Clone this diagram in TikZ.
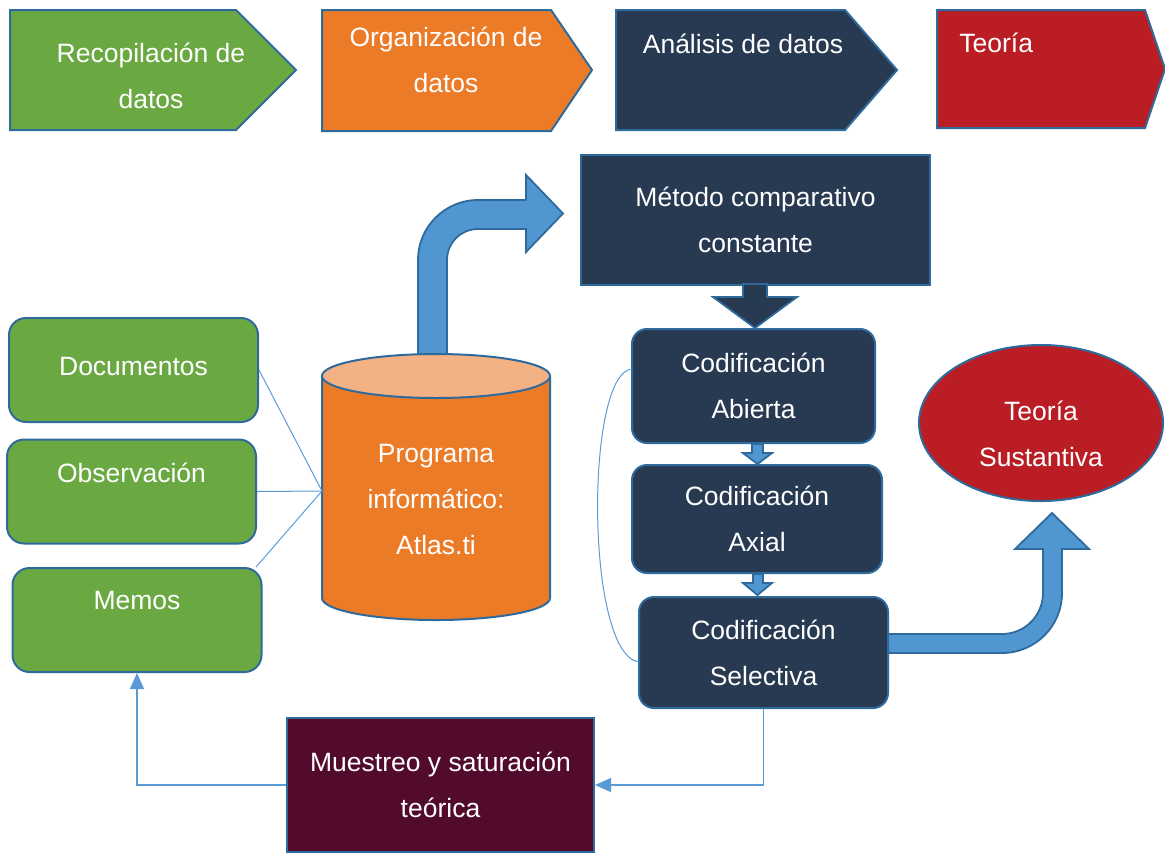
\documentclass[tikz,border=0pt]{standalone}
\usepackage{fontspec}
\setmainfont{Liberation Sans}
\usetikzlibrary{arrows.meta,shapes.geometric}
\definecolor{cgreen}{HTML}{6AA842}
\definecolor{corange}{HTML}{EC7B27}
\definecolor{clorange}{HTML}{F4B183}
\definecolor{cnavy}{HTML}{273A51}
\definecolor{cred}{HTML}{BA1D24}
\definecolor{cmaroon}{HTML}{520B2C}
\definecolor{cbfill}{HTML}{5097D2}
\definecolor{cborder}{HTML}{2F6A9D}
\definecolor{cline}{HTML}{5B9BD5}
\tikzset{
  txt/.style={text=white,font=\fontsize{13.25}{23}\selectfont,align=center,inner sep=0pt},
  shapeb/.style={draw=cborder,line width=1pt},
  greenbox/.style={shapeb,fill=cgreen,rounded corners=8.5pt,minimum width=124.5pt,minimum height=52pt,inner sep=0pt},
  navybox/.style={shapeb,fill=cnavy,rounded corners=7.5pt,inner sep=0pt,txt},
  blockarrow/.style={draw=cborder,line width=0.9pt,fill=cbfill},
  thin/.style={draw=cline,line width=0.5pt},
  fb/.style={draw=cline,line width=0.6pt,-{Triangle[length=8pt,width=7pt]}}
}
\begin{document}
\begin{tikzpicture}[x=0.5pt,y=-0.5pt]
\useasboundingbox (0,0) rectangle (1165,853);
% top pentagons
\draw[shapeb,fill=cgreen] (10,10) -- (236,10) -- (296,70) -- (236,130) -- (10,130) -- cycle;
\node[txt] (t1) at (151,75.5) {Recopilación de\\datos};
\draw[shapeb,fill=corange] (322,10) -- (551,10) -- (592,70) -- (551,131) -- (322,131) -- cycle;
\node[txt] (t2) at (446,60) {Organización de\\datos};
\draw[shapeb,fill=cnavy] (616,10) -- (845,10) -- (897,70) -- (845,130) -- (616,130) -- cycle;
\node[txt] (t3) at (743,44) {Análisis de datos};
\draw[shapeb,fill=cred] (937,10) -- (1145,10) -- (1165,69) -- (1145,128) -- (937,128) -- cycle;
\node[txt,anchor=west] (t4) at (959,43) {Teoría};

% bent arrow from cylinder to method
\draw[blockarrow] (418,372) -- (418,260) arc[start angle=180,end angle=270,radius=60]
  -- (526,200) -- (526,175) -- (563,213.5) -- (526,252) -- (526,229) -- (478,229)
  arc[start angle=270,end angle=180,radius=31] -- (447,372) -- cycle;

% cylinder
\fill[corange] (322,376) -- (322,598) arc[start angle=180,end angle=0,x radius=114,y radius=22] -- (550,376) -- cycle;
\draw[shapeb] (322,376) -- (322,598) arc[start angle=180,end angle=0,x radius=114,y radius=22] -- (550,376);
\draw[shapeb,fill=clorange] (436,376) ellipse[x radius=114,y radius=22];
\node[txt] (prog) at (436,499.5) {Programa\\informático:\\Atlas.ti};
\coordinate (cyl) at (322,491);

% green boxes
\node[greenbox] (doc) at (133.5,370) {};
\node[txt] (doct) at (133.5,367) {Documentos};
\node[greenbox] (obs) at (131.5,491.5) {};
\node[txt] (obst) at (131.5,473) {Observación};
\node[greenbox] (memos) at (137,620) {};
\node[txt] (memost) at (137,600) {Memos};
\draw[thin] (doc.east) -- (cyl);
\draw[thin] (obs.east) -- (cyl);
\draw[thin] (memos.24) -- (cyl);

% bent arrow to teoria sustantiva (drawn below the boxes)
\draw[blockarrow] (875,634) -- (1002,634) arc[start angle=90,end angle=0,radius=41]
  -- (1043,549) -- (1015,549) -- (1052,513) -- (1089,549) -- (1062,549) -- (1062,593)
  arc[start angle=0,end angle=90,radius=60] -- (875,653) -- cycle;

% method box and coding boxes
\node[navybox,rounded corners=0pt,minimum width=174.5pt,minimum height=65pt] (method) at (755.5,220) {Método comparativo\\constante};
\draw[draw=cborder,line width=0.9pt,fill=cnavy] (743,284) -- (767,284) -- (767,297) -- (797,297) -- (755,328) -- (713,297) -- (743,297) -- cycle;
\node[navybox,minimum width=121.5pt,minimum height=57pt] (abierta) at (753.5,386) {Codificación\\Abierta};
\node[navybox,minimum width=125pt,minimum height=54pt] (axial) at (757,519) {Codificación\\Axial};
\node[navybox,minimum width=124.5pt,minimum height=55.5pt] (selectiva) at (763.5,652.5) {Codificación\\Selectiva};
\draw[blockarrow] (752,444) -- (763,444) -- (763,453) -- (772,453) -- (757.5,464) -- (743,453) -- (752,453) -- cycle;
\draw[blockarrow] (753,574) -- (763,574) -- (763,583) -- (772,583) -- (757.5,595) -- (743,583) -- (753,583) -- cycle;

% curve from abierta to selectiva
\coordinate (ca) at (632,369);
\coordinate (cs) at (639,662);
\draw[thin] (ca) .. controls (585,372) and (585,655) .. (cs);

% teoria sustantiva
\node[shapeb,fill=cred,ellipse,minimum width=122pt,minimum height=78pt,inner sep=0pt] (teoria) at (1041,423) {};
\node[txt] (teoriat) at (1041,433.5) {Teoría\\Sustantiva};

% muestreo
\node[navybox,fill=cmaroon,rounded corners=0pt,minimum width=153.5pt,minimum height=67pt] (muestreo) at (440.5,785) {Muestreo y saturación\\teórica};
\draw[fb] (selectiva.south) |- (muestreo.east);
\draw[fb] (muestreo.west) -| (memos.south);
\end{tikzpicture}
\end{document}
